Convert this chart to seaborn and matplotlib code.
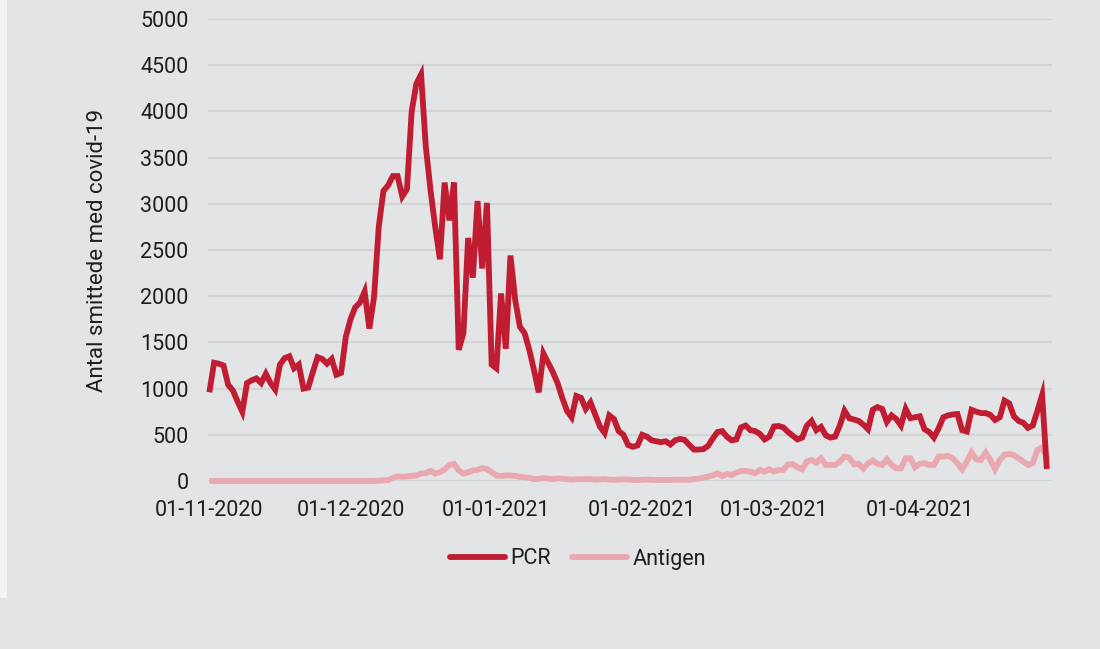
import numpy as np
import pandas as pd
import matplotlib
matplotlib.use("Agg")
import matplotlib.pyplot as plt
import matplotlib.dates as mdates
from matplotlib.lines import Line2D
from matplotlib.patches import Rectangle
import seaborn as sns

# ---------------- data ----------------
start_date = "2020-11-01"

pcr = [
    960, 1280, 1270, 1250, 1040, 980, 860, 750, 1060, 1090,
    1110, 1060, 1160, 1060, 990, 1260, 1330, 1350, 1220, 1260,
    1000, 1010, 1180, 1340, 1320, 1270, 1320, 1150, 1170, 1560,
    1750, 1880, 1930, 2050, 1650, 1990, 2750, 3140, 3200, 3300,
    3300, 3080, 3160, 4000, 4300, 4400, 3620, 3150, 2750, 2400,
    3230, 2820, 3230, 1420, 1600, 2630, 2200, 3030, 2300, 3010,
    1260, 1220, 2030, 1430, 2440, 1960, 1670, 1600, 1420, 1200,
    960, 1380, 1280, 1180, 1060, 900, 760, 690, 920, 900,
    780, 850, 720, 590, 520, 710, 670, 540, 500, 390,
    370, 385, 500, 480, 440, 430, 420, 430, 395, 440,
    455, 445, 390, 340, 340, 345, 380, 460, 530, 540,
    480, 440, 450, 580, 600, 550, 540, 510, 450, 480,
    590, 595, 580, 530, 490, 450, 470, 600, 650, 550,
    585, 495, 470, 480, 600, 760, 680, 665, 650, 610,
    560, 770, 800, 780, 640, 710, 670, 600, 780, 680,
    690, 700, 560, 530, 470, 570, 690, 710, 720, 725,
    550, 535, 770, 750, 735, 735, 715, 660, 690, 870,
    840, 700, 650, 630, 575, 600, 760, 930, 130,
]

antigen = [
    0, 0, 0, 0, 0, 0, 0, 0, 0, 0,
    0, 0, 0, 0, 0, 0, 0, 0, 0, 0,
    0, 0, 0, 0, 0, 0, 0, 0, 0, 0,
    0, 0, 0, 0, 0, 0, 3, 5, 10, 35,
    50, 45, 50, 55, 60, 80, 85, 110, 80, 95,
    125, 175, 185, 115, 80, 95, 115, 120, 140, 130,
    95, 60, 55, 60, 60, 55, 45, 40, 35, 20,
    25, 30, 25, 20, 28, 25, 20, 15, 20, 18,
    22, 20, 15, 18, 20, 15, 12, 15, 18, 15,
    12, 10, 12, 15, 12, 10, 12, 10, 12, 14,
    15, 14, 12, 22, 25, 36, 47, 62, 83, 54,
    76, 65, 91, 109, 109, 101, 83, 120, 101, 127,
    101, 120, 120, 178, 181, 149, 127, 210, 228, 199,
    246, 174, 174, 174, 210, 264, 253, 181, 185, 135,
    190, 221, 185, 174, 235, 174, 138, 138, 246, 246,
    149, 185, 192, 174, 174, 264, 264, 272, 246, 192,
    127, 210, 308, 235, 228, 308, 228, 127, 228, 283,
    293, 279, 246, 210, 174, 192, 337, 365, 246,
]

series_names = ["PCR", "Antigen"]
tick_dates = ["2020-11-01", "2020-12-01", "2021-01-01",
              "2021-02-01", "2021-03-01", "2021-04-01"]
y_ticks = [0, 500, 1000, 1500, 2000, 2500, 3000, 3500, 4000, 4500, 5000]
y_label = "Antal smittede med covid-19"

# ---------------- style ----------------
BG = "#e3e4e6"
RED = "#c01d33"
PINK = "#e9a9ae"
GRID = "#d3d4d6"
TXT = "#1e1e1e"
FS = 15.5
LW = 4.2

sns.set_style("white")
plt.rcParams["font.family"] = ["Roboto", "DejaVu Sans"]

dates = pd.date_range(start_date, periods=len(pcr), freq="D")
df = pd.DataFrame({"Dato": dates, "PCR": pcr, "Antigen": antigen})
long = df.melt(id_vars="Dato", var_name="Test", value_name="Antal")

W, H = 1100, 649
fig = plt.figure(figsize=(W / 100, H / 100), dpi=100, facecolor=BG)
fig.patches.append(Rectangle((0, (H - 598) / H), 7 / W, 598 / H,
                             transform=fig.transFigure, facecolor="#f4f4f5",
                             edgecolor="none", zorder=0))

ax_left, ax_right, ax_top, ax_bot = 208, 1052, 19, 481
ax = fig.add_axes([ax_left / W, 1 - ax_bot / H,
                   (ax_right - ax_left) / W, (ax_bot - ax_top) / H])
ax.set_facecolor(BG)

sns.lineplot(data=long, x="Dato", y="Antal", hue="Test", hue_order=series_names,
             palette={"PCR": RED, "Antigen": PINK}, linewidth=LW,
             legend=False, ax=ax, clip_on=False, solid_joinstyle="miter",
             solid_capstyle="butt")
for ln in ax.lines:
    if matplotlib.colors.same_color(ln.get_color(), RED):
        ln.set_zorder(4)
    else:
        ln.set_zorder(3)

ax.set_ylim(0, 5000)
ax.set_yticks(y_ticks)
ax.set_yticklabels([str(v) for v in y_ticks])
x0 = pd.Timestamp(start_date)
ax.set_xlim(x0 - pd.Timedelta(hours=7), x0 + pd.Timedelta(days=179.1))
ax.set_xticks(pd.to_datetime(tick_dates))
ax.xaxis.set_major_formatter(mdates.DateFormatter("%d-%m-%Y"))

ax.grid(axis="y", color=GRID, linewidth=1.6, zorder=0)
ax.grid(axis="x", visible=False)
ax.set_axisbelow(True)
for s in ax.spines.values():
    s.set_visible(False)

ax.tick_params(axis="y", length=0, pad=14, labelsize=FS, labelcolor=TXT)
ax.tick_params(axis="x", length=5.5, width=1, color="#c8c9cb", pad=8,
               labelsize=FS, labelcolor=TXT, direction="out")

ax.set_xlabel("")
ax.set_ylabel(y_label, fontsize=FS + 0.5, color=TXT)
ax.yaxis.set_label_coords((108 - ax_left) / (ax_right - ax_left), 0.5)

handles = [Line2D([], [], color=RED, linewidth=LW, solid_capstyle="round"),
           Line2D([], [], color=PINK, linewidth=LW, solid_capstyle="round")]
leg = fig.legend(handles, series_names, loc="center", ncol=2,
                 bbox_to_anchor=(578 / W, 1 - 559 / H), frameon=False,
                 fontsize=FS, handlelength=2.55, handletextpad=0.25,
                 columnspacing=1.0)
for t in leg.get_texts():
    t.set_color(TXT)

fig.savefig("out.png", dpi=100, facecolor=BG)
